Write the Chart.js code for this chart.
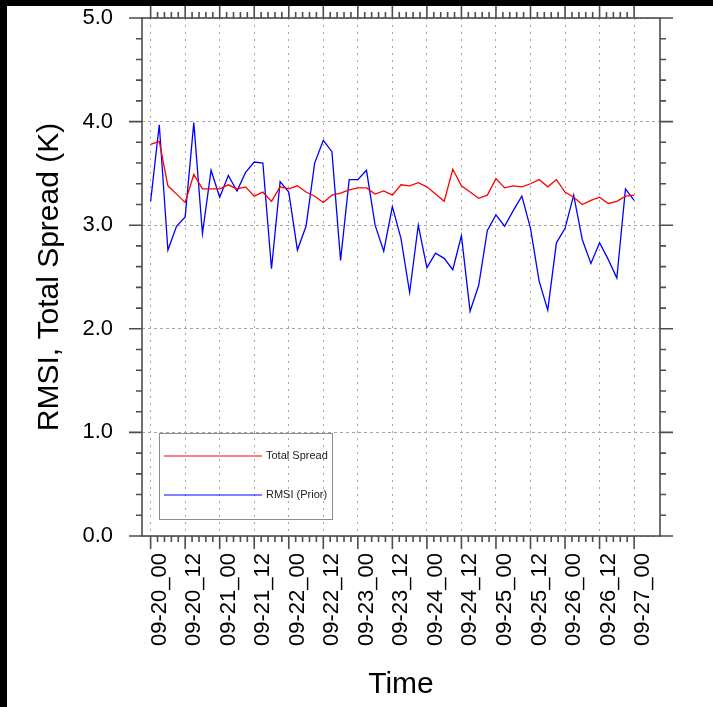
<!DOCTYPE html>
<html>
<head>
<meta charset="utf-8">
<script src="https://cdn.jsdelivr.net/npm/chart.js@4.4.1/dist/chart.umd.min.js"></script>
<style>
  html, body { margin: 0; padding: 0; background: #000; width: 713px; height: 707px; overflow: hidden; }
  #wrap { position: absolute; left: 7px; top: 6px; width: 706px; height: 701px; background: #fff; }
</style>
</head>
<body>
<div id="wrap"><canvas id="c" width="706" height="701"></canvas></div>
<script>
// hours since 09-20_00, one analysis every 3 h
const hours = [0, 3, 6, 9, 12, 15, 18, 21, 24, 27, 30, 33, 36, 39, 42, 45, 48, 51, 54, 57,
  60, 63, 66, 69, 72, 75, 78, 81, 84, 87, 90, 93, 96, 99, 102, 105, 108, 111, 114, 117,
  120, 123, 126, 129, 132, 135, 138, 141, 144, 147, 150, 153, 156, 159, 162, 165, 168];

const tickHours = [0, 12, 24, 36, 48, 60, 72, 84, 96, 108, 120, 132, 144, 156, 168];
const tickLabels = ['09-20_00', '09-20_12', '09-21_00', '09-21_12', '09-22_00', '09-22_12',
  '09-23_00', '09-23_12', '09-24_00', '09-24_12', '09-25_00', '09-25_12', '09-26_00',
  '09-26_12', '09-27_00'];
const yTicks = [0, 1, 2, 3, 4, 5];

const totalSpread = [3.78, 3.81, 3.38, 3.30, 3.22, 3.49, 3.35, 3.35, 3.35, 3.39,
  3.35, 3.37, 3.28, 3.32, 3.23, 3.37, 3.35, 3.38, 3.32, 3.28,
  3.22, 3.29, 3.31, 3.34, 3.36, 3.36, 3.30, 3.33, 3.29, 3.39,
  3.38, 3.41, 3.37, 3.30, 3.23, 3.54, 3.38, 3.32, 3.26, 3.29,
  3.45, 3.36, 3.38, 3.37, 3.40, 3.44, 3.37, 3.44, 3.32, 3.27,
  3.20, 3.24, 3.27, 3.21, 3.23, 3.28, 3.29];

const rmsiPrior = [3.23, 3.97, 2.76, 2.99, 3.08, 3.99, 2.92, 3.53, 3.27, 3.48,
  3.33, 3.51, 3.61, 3.60, 2.58, 3.42, 3.32, 2.76, 2.99, 3.60,
  3.82, 3.71, 2.66, 3.44, 3.44, 3.53, 3.00, 2.75, 3.18, 2.87,
  2.35, 3.00, 2.59, 2.73, 2.68, 2.57, 2.90, 2.17, 2.42, 2.95,
  3.10, 2.99, 3.14, 3.28, 2.97, 2.46, 2.18, 2.83, 2.97, 3.29,
  2.86, 2.63, 2.83, 2.67, 2.49, 3.35, 3.24];

const FONT = 'Liberation Sans, Arial, Helvetica, sans-serif';

// frame + outward tick marks on all four sides (NCL style)
const frameTicks = {
  id: 'frameTicks',
  afterDatasetsDraw(chart) {
    const { ctx, chartArea: a, scales: { x, y } } = chart;
    ctx.save();
    ctx.strokeStyle = '#4d4d4d';
    ctx.lineWidth = 1.6;
    ctx.strokeRect(a.left, a.top, a.right - a.left, a.bottom - a.top);
    ctx.beginPath();
    const first = tickHours[0], last = tickHours[tickHours.length - 1];
    for (let k = 0; first + k * 2.4 <= last + 1e-6; k++) {
      const px = x.getPixelForValue(first + k * 2.4);
      const len = k % 5 === 0 ? 13 : 6;
      ctx.moveTo(px, a.bottom); ctx.lineTo(px, a.bottom + len);
      ctx.moveTo(px, a.top); ctx.lineTo(px, a.top - len);
    }
    for (let k = 0; k <= 25; k++) {
      const py = y.getPixelForValue(k * 0.2);
      const len = k % 5 === 0 ? 13 : 6;
      ctx.moveTo(a.left, py); ctx.lineTo(a.left - len, py);
      ctx.moveTo(a.right, py); ctx.lineTo(a.right + len, py);
    }
    ctx.stroke();
    ctx.restore();
  }
};

// boxed legend inside the lower-left corner of the plot
const legendBox = {
  id: 'legendBox',
  afterDraw(chart) {
    const { ctx, chartArea: a } = chart;
    const bx = a.left + 17, by = a.bottom - 103;
    ctx.save();
    ctx.strokeStyle = '#8c8c8c';
    ctx.lineWidth = 1;
    ctx.strokeRect(bx + 0.5, by + 0.5, 173, 86);
    const rows = [a.bottom - 80, a.bottom - 41];
    chart.data.datasets.forEach((ds, i) => {
      ctx.strokeStyle = ds.borderColor;
      ctx.lineWidth = 1.2;
      ctx.beginPath();
      ctx.moveTo(a.left + 22, rows[i]);
      ctx.lineTo(a.left + 120, rows[i]);
      ctx.stroke();
      ctx.fillStyle = '#222';
      ctx.font = '11px ' + FONT;
      ctx.textBaseline = 'middle';
      ctx.fillText(ds.label, a.left + 124, rows[i]);
    });
    ctx.restore();
  }
};

new Chart(document.getElementById('c'), {
  type: 'line',
  data: {
    labels: hours,
    datasets: [
      { label: 'Total Spread', data: totalSpread, borderColor: '#ff0000', borderWidth: 1.3, pointRadius: 0, tension: 0 },
      { label: 'RMSI (Prior)', data: rmsiPrior, borderColor: '#0000ff', borderWidth: 1.3, pointRadius: 0, tension: 0 }
    ]
  },
  options: {
    responsive: false,
    animation: false,
    devicePixelRatio: 1,
    layout: { padding: { left: 0, top: 12, right: 53, bottom: 0 } },
    plugins: { legend: { display: false }, tooltip: { enabled: false } },
    scales: {
      x: {
        type: 'linear',
        min: -3,
        max: 177,
        afterBuildTicks: s => { s.ticks = tickHours.map(v => ({ value: v })); },
        afterFit: s => { s.height = 171; s.paddingLeft = 0; s.paddingRight = 0; },
        grid: { color: '#a6a6a6', lineWidth: 1, drawTicks: false },
        border: { display: false, dash: [2, 5] },
        ticks: {
          autoSkip: false, maxRotation: 90, minRotation: 90, padding: 17, labelOffset: 9,
          color: '#000', font: { family: FONT, size: 22 },
          callback: v => tickLabels[tickHours.indexOf(v)]
        },
        title: {
          display: true, text: 'Time', color: '#000',
          font: { family: FONT, size: 30, lineHeight: 1 }, padding: { top: 0, bottom: 7 }
        }
      },
      y: {
        min: 0,
        max: 5,
        afterBuildTicks: s => { s.ticks = yTicks.map(v => ({ value: v })); },
        afterFit: s => { s.width = 135; s.paddingTop = 0; s.paddingBottom = 0; },
        grid: { color: '#a6a6a6', lineWidth: 1, drawTicks: false },
        border: { display: false, dash: [3, 3] },
        ticks: {
          padding: 29, color: '#000', font: { family: FONT, size: 22 },
          callback: v => v.toFixed(1)
        },
        title: {
          display: true, text: 'RMSI, Total Spread (K)', color: '#000',
          font: { family: FONT, size: 30, lineHeight: 1 }, padding: { top: 28, bottom: 0 }
        }
      }
    }
  },
  plugins: [frameTicks, legendBox]
});
</script>
</body>
</html>
